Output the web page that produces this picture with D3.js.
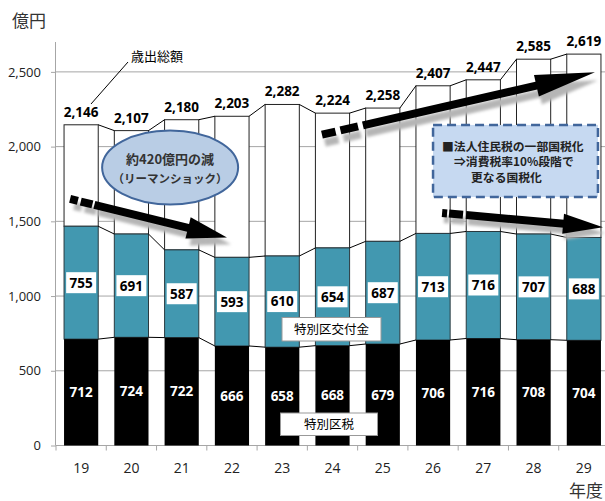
<!DOCTYPE html>
<html>
<head>
<meta charset="utf-8">
<script src="https://cdn.jsdelivr.net/npm/d3@7"></script>
<style>
  html, body { margin: 0; padding: 0; background: #fff; }
  svg { display: block; }
  .num { font-family: "Open Sans", "DejaVu Sans", sans-serif; }
  .jp { font-family: "Noto Sans CJK JP", sans-serif; }
</style>
</head>
<body>
<svg id="chart" width="605" height="501"></svg>
<script>
// Fiscal years (平成)
const years = ["19", "20", "21", "22", "23", "24", "25", "26", "27", "28", "29"];
// 特別区税 (億円)
const kuZei = [712, 724, 722, 666, 658, 668, 679, 706, 716, 708, 704];
// 特別区交付金 (億円)
const kofukin = [755, 691, 587, 593, 610, 654, 687, 713, 716, 707, 688];
// 歳出総額 (億円)
const saishutsu = [2146, 2107, 2180, 2203, 2282, 2224, 2258, 2407, 2447, 2585, 2619];
// Value-axis ticks
const yTicks = [0, 500, 1000, 1500, 2000, 2500];

const svg = d3.select("#chart");
const plot = { left: 56, right: 609, top: 42, bottom: 445.5 };

const x = d3.scaleBand().domain(years).range([plot.left, plot.right])
  .paddingInner(0.32).paddingOuter(0.16);
const xi = d3.scaleLinear().domain([0, years.length]).range([plot.left, plot.right]);
const y = d3.scaleLinear().domain([0, 2700]).range([plot.bottom, plot.top]);

const grey = "#a6a6a6";
const teal = "#4298b0";

const rows = years.map((yr, i) => ({
  yr, zei: kuZei[i], kof: kofukin[i], total: saishutsu[i],
  top1: kuZei[i], top2: kuZei[i] + kofukin[i]
}));

// Horizontal gridlines
svg.append("g").selectAll("line").data(yTicks.filter(d => d > 0)).join("line")
  .attr("x1", plot.left).attr("x2", 605)
  .attr("y1", d => y(d)).attr("y2", d => y(d))
  .attr("stroke", grey).attr("stroke-width", 1);

// Y axis
const yAxis = svg.append("g").attr("transform", `translate(${plot.left},0)`)
  .call(d3.axisLeft(y).tickValues(yTicks).tickSize(5).tickPadding(10)
    .tickFormat(d3.format(",")));
yAxis.select(".domain").attr("stroke", grey).attr("d", `M-0.5,${plot.top}V${plot.bottom}`);
yAxis.selectAll(".tick line").attr("stroke", grey);
yAxis.selectAll("text").attr("class", "num").attr("font-size", 13).attr("fill", "#222");

// X axis with ticks between categories
const xAxisG = svg.append("g").attr("transform", `translate(0,${plot.bottom})`);
xAxisG.append("line").attr("x1", plot.left).attr("x2", 605).attr("y1", 0).attr("y2", 0)
  .attr("stroke", grey);
xAxisG.selectAll("line.tk").data(d3.range(years.length + 1)).join("line").attr("class", "tk")
  .attr("x1", d => xi(d)).attr("x2", d => xi(d)).attr("y1", 0).attr("y2", 5)
  .attr("stroke", grey);
xAxisG.selectAll("text").data(years).join("text")
  .attr("class", "num").attr("x", d => x(d) + x.bandwidth() / 2).attr("y", 27)
  .attr("text-anchor", "middle").attr("font-size", 14).attr("fill", "#222").text(d => d);

// Bars: 歳出総額 remainder (white), 特別区交付金 (teal), 特別区税 (black)
const bars = svg.append("g");
bars.selectAll("rect.tot").data(rows).join("rect").attr("class", "tot")
  .attr("x", d => x(d.yr)).attr("width", x.bandwidth())
  .attr("y", d => y(d.total)).attr("height", d => y(d.top2) - y(d.total))
  .attr("fill", "#fff").attr("stroke", "#222").attr("stroke-width", 1);
bars.selectAll("rect.kof").data(rows).join("rect").attr("class", "kof")
  .attr("x", d => x(d.yr)).attr("width", x.bandwidth())
  .attr("y", d => y(d.top2)).attr("height", d => y(d.top1) - y(d.top2))
  .attr("fill", teal).attr("stroke", "#2a3a40").attr("stroke-width", 1);
bars.selectAll("rect.zei").data(rows).join("rect").attr("class", "zei")
  .attr("x", d => x(d.yr)).attr("width", x.bandwidth())
  .attr("y", d => y(d.top1)).attr("height", d => y(0) - y(d.top1))
  .attr("fill", "#000");

// Series lines joining the stack boundaries of neighbouring bars
const links = svg.append("g").attr("stroke", "#000").attr("stroke-width", 1);
["top1", "top2", "total"].forEach(key => {
  links.selectAll(null).data(rows.slice(0, -1)).join("line")
    .attr("x1", d => x(d.yr) + x.bandwidth())
    .attr("x2", (d, i) => x(rows[i + 1].yr))
    .attr("y1", d => y(d[key]))
    .attr("y2", (d, i) => y(rows[i + 1][key]));
});

// Value labels
const fmt = d3.format(",");
svg.append("g").selectAll("text").data(rows).join("text")
  .attr("class", "num").attr("font-weight", "bold").attr("font-size", 13.5)
  .attr("x", d => x(d.yr) + x.bandwidth() / 2).attr("y", d => y(d.total) - 8)
  .attr("text-anchor", "middle").attr("fill", "#000").text(d => fmt(d.total));

svg.append("g").selectAll("text").data(rows).join("text")
  .attr("class", "num").attr("font-weight", "bold").attr("font-size", 13.5)
  .attr("x", d => x(d.yr) + x.bandwidth() / 2).attr("y", d => y(d.zei / 2))
  .attr("dy", "0.36em").attr("text-anchor", "middle").attr("fill", "#fff").text(d => d.zei);

const kofLab = svg.append("g").selectAll("g").data(rows).join("g")
  .attr("transform", d => `translate(${x(d.yr) + x.bandwidth() / 2},${y(d.top1 + d.kof / 2)})`);
kofLab.append("rect").attr("x", -15).attr("y", -10.5).attr("width", 30).attr("height", 21)
  .attr("fill", "#fff");
kofLab.append("text").attr("class", "num").attr("font-weight", "bold").attr("font-size", 13.5)
  .attr("dy", "0.36em").attr("text-anchor", "middle").attr("fill", "#000").text(d => d.kof);

// Unit captions
svg.append("text").attr("class", "jp").attr("x", 12).attr("y", 27).attr("font-size", 17)
  .attr("fill", "#333").text("億円");
svg.append("text").attr("class", "jp").attr("x", 569).attr("y", 497).attr("font-size", 17)
  .attr("fill", "#333").text("年度");

// 歳出総額 callout
svg.append("line").attr("x1", 128).attr("y1", 62).attr("x2", 91).attr("y2", 104)
  .attr("stroke", "#000").attr("stroke-width", 1);
svg.append("text").attr("class", "jp").attr("x", 131).attr("y", 61).attr("font-size", 13)
  .attr("fill", "#000").text("歳出総額");

// Series name boxes
function nameBox(label, x0, y0, w, h) {
  svg.append("rect").attr("x", x0).attr("y", y0).attr("width", w).attr("height", h)
    .attr("fill", "#fff").attr("stroke", "#999").attr("stroke-width", 1);
  svg.append("text").attr("class", "jp").attr("x", x0 + w / 2).attr("y", y0 + h / 2)
    .attr("dy", "0.36em").attr("text-anchor", "middle").attr("font-size", 12.5)
    .attr("fill", "#000").text(label);
}
nameBox("特別区交付金", 282, 317.5, 99, 23.5);
nameBox("特別区税", 280.5, 413, 97, 22.5);

// Trend arrows (positions given in category-index / 億円 units)
const defs = svg.append("defs");
defs.append("filter").attr("id", "soft").attr("x", "-20%").attr("y", "-50%")
  .attr("width", "140%").attr("height", "200%")
  .append("feGaussianBlur").attr("stdDeviation", 1.6);

function trendArrow(a) {
  const x1 = xi(a.from[0]), y1 = y(a.from[1]);
  const x2 = xi(a.to[0]), y2 = y(a.to[1]);
  const len = Math.hypot(x2 - x1, y2 - y1);
  const ang = Math.atan2(y2 - y1, x2 - x1) * 180 / Math.PI;
  const draw = (g, color) => {
    let pos = 0;
    a.dashes.forEach(([d, gap]) => {
      g.append("rect").attr("x", pos).attr("y", -a.w / 2).attr("width", d).attr("height", a.w)
        .attr("fill", color);
      pos += d + gap;
    });
    g.append("rect").attr("x", pos).attr("y", -a.w / 2).attr("width", len - a.head - pos + 1)
      .attr("height", a.w).attr("fill", color);
    g.append("path")
      .attr("d", `M${len - a.head},${-a.hw}L${len},0L${len - a.head},${a.hw}Z`)
      .attr("fill", color);
  };
  const sh = svg.append("g")
    .attr("transform", `translate(${x1 + a.sh[0]},${y1 + a.sh[1]}) rotate(${ang})`)
    .attr("filter", "url(#soft)");
  draw(sh, "#b5b5b5");
  const g = svg.append("g").attr("transform", `translate(${x1},${y1}) rotate(${ang})`);
  draw(g, "#000");
}

trendArrow({ from: [0.28, 1650], to: [3.4, 1392], w: 8, head: 40, hw: 11,
  dashes: [[8, 3], [12, 2]], sh: [4, 7] });
trendArrow({ from: [5.29, 2080], to: [10.72, 2497], w: 8, head: 60, hw: 11,
  dashes: [[14, 5], [18, 5]], sh: [3, 8] });
trendArrow({ from: [7.68, 1556], to: [10.88, 1460], w: 8, head: 40, hw: 10,
  dashes: [[5, 2], [14, 3]], sh: [2, 6] });

// Lehman shock note
const cx = xi(2.27), cy = y(1860);
svg.append("ellipse").attr("cx", cx).attr("cy", cy).attr("rx", 68).attr("ry", 37)
  .attr("fill", "#b9cde5").attr("stroke", "#41669b").attr("stroke-width", 2);
svg.append("text").attr("class", "jp").attr("x", cx).attr("y", cy - 4)
  .attr("text-anchor", "middle").attr("font-size", 13).attr("font-weight", "bold")
  .attr("fill", "#333").text("約420億円の減");
svg.append("text").attr("class", "jp").attr("x", cx).attr("y", cy + 15)
  .attr("text-anchor", "middle").attr("font-size", 11.5).attr("font-weight", "bold")
  .attr("fill", "#333").text("（リーマンショック）");

// Corporate inhabitant tax note
const bx0 = xi(7.5), bx1 = xi(10.78), by0 = y(2145), by1 = y(1663);
svg.append("rect").attr("x", bx0).attr("y", by0).attr("width", bx1 - bx0).attr("height", by1 - by0)
  .attr("fill", "#c6d9f1").attr("stroke", "#41669b").attr("stroke-width", 2.5)
  .attr("stroke-dasharray", "9,5");
const noteLines = [
  { t: "■法人住民税の一部国税化", dx: 9 },
  { t: "⇒消費税率10%段階で", dx: 21 },
  { t: "更なる国税化", dx: 38 }
];
svg.append("g").selectAll("text").data(noteLines).join("text")
  .attr("class", "jp").attr("x", d => bx0 + d.dx).attr("y", (d, i) => by0 + 26 + i * 15.5)
  .attr("font-size", 11.8).attr("font-weight", "bold").attr("fill", "#222").text(d => d.t);
</script>
</body>
</html>
